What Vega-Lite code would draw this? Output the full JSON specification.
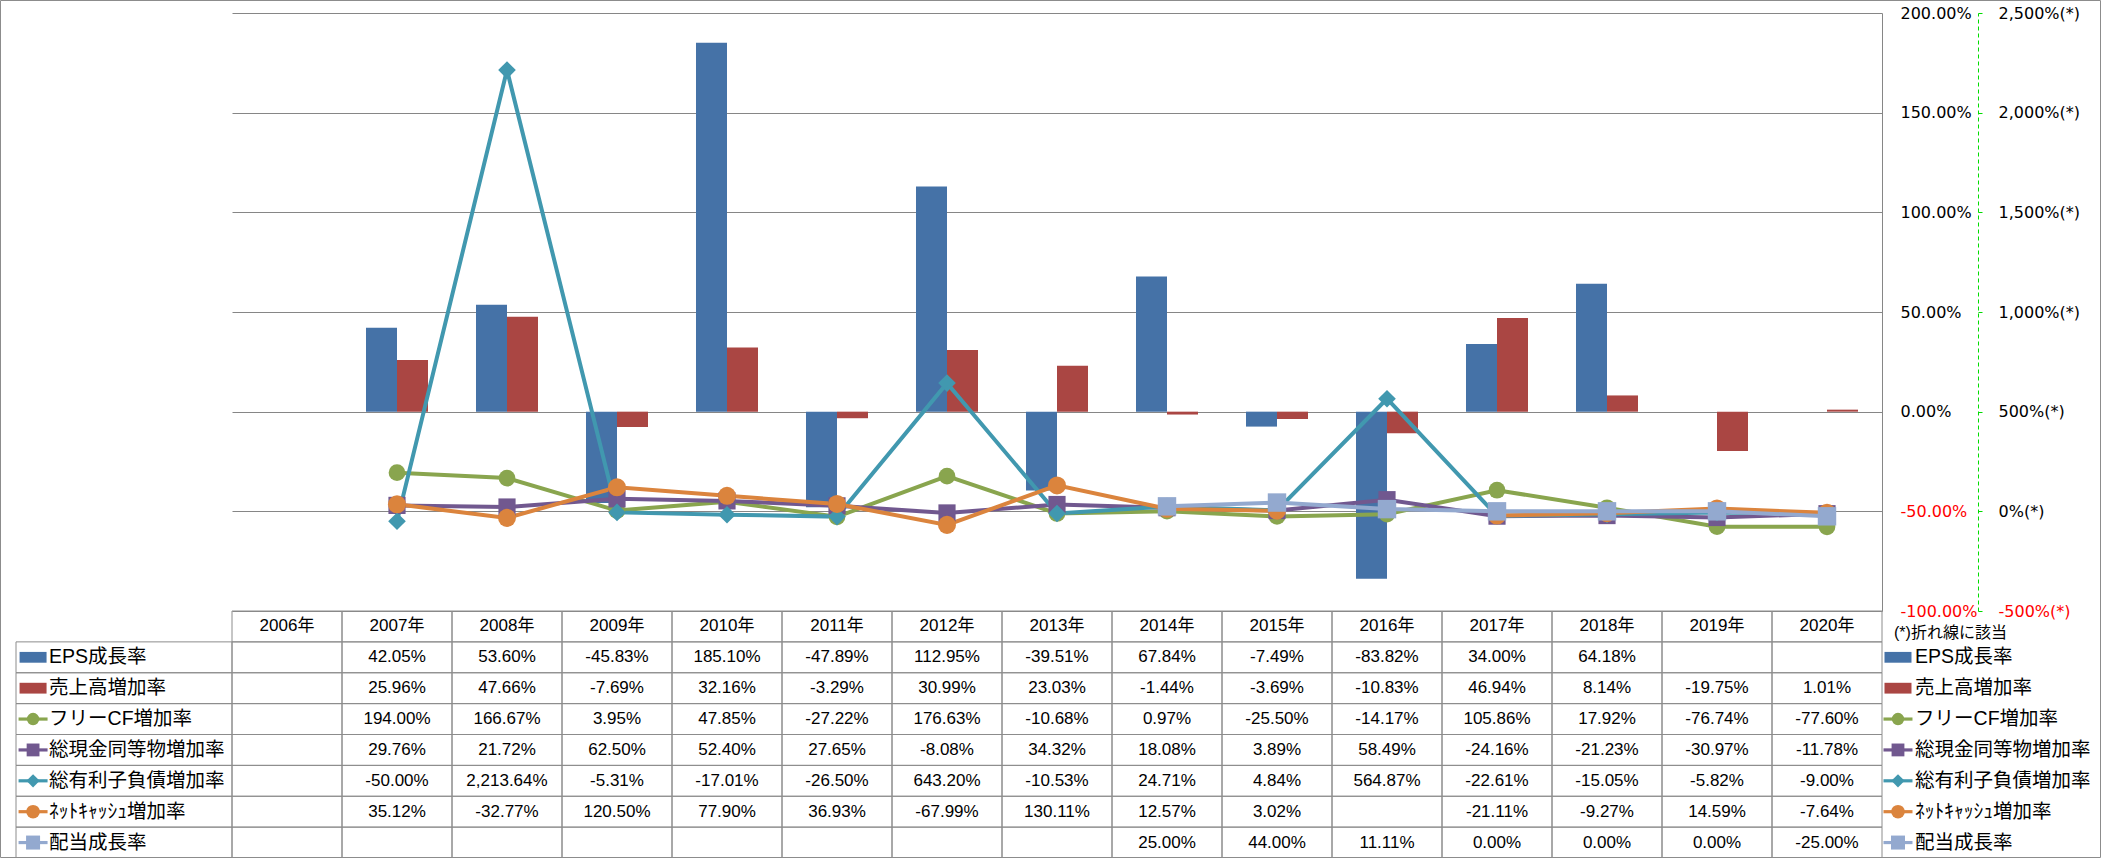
{
  "$schema": "https://vega.github.io/schema/vega-lite/v6.json",
  "width": 1650,
  "height": 598,
  "autosize": {"type": "none"},
  "padding": {"left": 232, "top": 13, "right": 219, "bottom": 247},
  "background": "white",
  "config": {
    "view": {"stroke": null},
    "locale": {"number": {"decimal": ".", "thousands": ",", "grouping": [3], "currency": ["$", ""], "minus": "-"}}
  },
  "datasets": {
    "years": [
      {"year": "2006年"}, {"year": "2007年"}, {"year": "2008年"}, {"year": "2009年"}, {"year": "2010年"},
      {"year": "2011年"}, {"year": "2012年"}, {"year": "2013年"}, {"year": "2014年"}, {"year": "2015年"},
      {"year": "2016年"}, {"year": "2017年"}, {"year": "2018年"}, {"year": "2019年"}, {"year": "2020年"}
    ],
    "series": [
      {"series": "EPS成長率", "kind": "bar"},
      {"series": "売上高増加率", "kind": "bar"},
      {"series": "フリーCF増加率", "kind": "line"},
      {"series": "総現金同等物増加率", "kind": "line"},
      {"series": "総有利子負債増加率", "kind": "line"},
      {"series": "ﾈｯﾄｷｬｯｼｭ増加率", "kind": "line"},
      {"series": "配当成長率", "kind": "line"}
    ],
    "note": [{"text": "(*)折れ線に該当"}],
    "vals": [
      {"year": "2006年", "series": "EPS成長率", "value": null},
      {"year": "2007年", "series": "EPS成長率", "value": 0.4205},
      {"year": "2008年", "series": "EPS成長率", "value": 0.536},
      {"year": "2009年", "series": "EPS成長率", "value": -0.4583},
      {"year": "2010年", "series": "EPS成長率", "value": 1.851},
      {"year": "2011年", "series": "EPS成長率", "value": -0.4789},
      {"year": "2012年", "series": "EPS成長率", "value": 1.1295},
      {"year": "2013年", "series": "EPS成長率", "value": -0.3951},
      {"year": "2014年", "series": "EPS成長率", "value": 0.6784},
      {"year": "2015年", "series": "EPS成長率", "value": -0.0749},
      {"year": "2016年", "series": "EPS成長率", "value": -0.8382},
      {"year": "2017年", "series": "EPS成長率", "value": 0.34},
      {"year": "2018年", "series": "EPS成長率", "value": 0.6418},
      {"year": "2019年", "series": "EPS成長率", "value": null},
      {"year": "2020年", "series": "EPS成長率", "value": null},
      {"year": "2006年", "series": "売上高増加率", "value": null},
      {"year": "2007年", "series": "売上高増加率", "value": 0.2596},
      {"year": "2008年", "series": "売上高増加率", "value": 0.4766},
      {"year": "2009年", "series": "売上高増加率", "value": -0.0769},
      {"year": "2010年", "series": "売上高増加率", "value": 0.3216},
      {"year": "2011年", "series": "売上高増加率", "value": -0.0329},
      {"year": "2012年", "series": "売上高増加率", "value": 0.3099},
      {"year": "2013年", "series": "売上高増加率", "value": 0.2303},
      {"year": "2014年", "series": "売上高増加率", "value": -0.0144},
      {"year": "2015年", "series": "売上高増加率", "value": -0.0369},
      {"year": "2016年", "series": "売上高増加率", "value": -0.1083},
      {"year": "2017年", "series": "売上高増加率", "value": 0.4694},
      {"year": "2018年", "series": "売上高増加率", "value": 0.0814},
      {"year": "2019年", "series": "売上高増加率", "value": -0.1975},
      {"year": "2020年", "series": "売上高増加率", "value": 0.0101},
      {"year": "2006年", "series": "フリーCF増加率", "value": null},
      {"year": "2007年", "series": "フリーCF増加率", "value": 1.94},
      {"year": "2008年", "series": "フリーCF増加率", "value": 1.6667},
      {"year": "2009年", "series": "フリーCF増加率", "value": 0.0395},
      {"year": "2010年", "series": "フリーCF増加率", "value": 0.4785},
      {"year": "2011年", "series": "フリーCF増加率", "value": -0.2722},
      {"year": "2012年", "series": "フリーCF増加率", "value": 1.7663},
      {"year": "2013年", "series": "フリーCF増加率", "value": -0.1068},
      {"year": "2014年", "series": "フリーCF増加率", "value": 0.0097},
      {"year": "2015年", "series": "フリーCF増加率", "value": -0.255},
      {"year": "2016年", "series": "フリーCF増加率", "value": -0.1417},
      {"year": "2017年", "series": "フリーCF増加率", "value": 1.0586},
      {"year": "2018年", "series": "フリーCF増加率", "value": 0.1792},
      {"year": "2019年", "series": "フリーCF増加率", "value": -0.7674},
      {"year": "2020年", "series": "フリーCF増加率", "value": -0.776},
      {"year": "2006年", "series": "総現金同等物増加率", "value": null},
      {"year": "2007年", "series": "総現金同等物増加率", "value": 0.2976},
      {"year": "2008年", "series": "総現金同等物増加率", "value": 0.2172},
      {"year": "2009年", "series": "総現金同等物増加率", "value": 0.625},
      {"year": "2010年", "series": "総現金同等物増加率", "value": 0.524},
      {"year": "2011年", "series": "総現金同等物増加率", "value": 0.2765},
      {"year": "2012年", "series": "総現金同等物増加率", "value": -0.0808},
      {"year": "2013年", "series": "総現金同等物増加率", "value": 0.3432},
      {"year": "2014年", "series": "総現金同等物増加率", "value": 0.1808},
      {"year": "2015年", "series": "総現金同等物増加率", "value": 0.0389},
      {"year": "2016年", "series": "総現金同等物増加率", "value": 0.5849},
      {"year": "2017年", "series": "総現金同等物増加率", "value": -0.2416},
      {"year": "2018年", "series": "総現金同等物増加率", "value": -0.2123},
      {"year": "2019年", "series": "総現金同等物増加率", "value": -0.3097},
      {"year": "2020年", "series": "総現金同等物増加率", "value": -0.1178},
      {"year": "2006年", "series": "総有利子負債増加率", "value": null},
      {"year": "2007年", "series": "総有利子負債増加率", "value": -0.5},
      {"year": "2008年", "series": "総有利子負債増加率", "value": 22.1364},
      {"year": "2009年", "series": "総有利子負債増加率", "value": -0.0531},
      {"year": "2010年", "series": "総有利子負債増加率", "value": -0.1701},
      {"year": "2011年", "series": "総有利子負債増加率", "value": -0.265},
      {"year": "2012年", "series": "総有利子負債増加率", "value": 6.432},
      {"year": "2013年", "series": "総有利子負債増加率", "value": -0.1053},
      {"year": "2014年", "series": "総有利子負債増加率", "value": 0.2471},
      {"year": "2015年", "series": "総有利子負債増加率", "value": 0.0484},
      {"year": "2016年", "series": "総有利子負債増加率", "value": 5.6487},
      {"year": "2017年", "series": "総有利子負債増加率", "value": -0.2261},
      {"year": "2018年", "series": "総有利子負債増加率", "value": -0.1505},
      {"year": "2019年", "series": "総有利子負債増加率", "value": -0.0582},
      {"year": "2020年", "series": "総有利子負債増加率", "value": -0.09},
      {"year": "2006年", "series": "ﾈｯﾄｷｬｯｼｭ増加率", "value": null},
      {"year": "2007年", "series": "ﾈｯﾄｷｬｯｼｭ増加率", "value": 0.3512},
      {"year": "2008年", "series": "ﾈｯﾄｷｬｯｼｭ増加率", "value": -0.3277},
      {"year": "2009年", "series": "ﾈｯﾄｷｬｯｼｭ増加率", "value": 1.205},
      {"year": "2010年", "series": "ﾈｯﾄｷｬｯｼｭ増加率", "value": 0.779},
      {"year": "2011年", "series": "ﾈｯﾄｷｬｯｼｭ増加率", "value": 0.3693},
      {"year": "2012年", "series": "ﾈｯﾄｷｬｯｼｭ増加率", "value": -0.6799},
      {"year": "2013年", "series": "ﾈｯﾄｷｬｯｼｭ増加率", "value": 1.3011},
      {"year": "2014年", "series": "ﾈｯﾄｷｬｯｼｭ増加率", "value": 0.1257},
      {"year": "2015年", "series": "ﾈｯﾄｷｬｯｼｭ増加率", "value": 0.0302},
      {"year": "2016年", "series": "ﾈｯﾄｷｬｯｼｭ増加率", "value": null},
      {"year": "2017年", "series": "ﾈｯﾄｷｬｯｼｭ増加率", "value": -0.2111},
      {"year": "2018年", "series": "ﾈｯﾄｷｬｯｼｭ増加率", "value": -0.0927},
      {"year": "2019年", "series": "ﾈｯﾄｷｬｯｼｭ増加率", "value": 0.1459},
      {"year": "2020年", "series": "ﾈｯﾄｷｬｯｼｭ増加率", "value": -0.0764},
      {"year": "2006年", "series": "配当成長率", "value": null},
      {"year": "2007年", "series": "配当成長率", "value": null},
      {"year": "2008年", "series": "配当成長率", "value": null},
      {"year": "2009年", "series": "配当成長率", "value": null},
      {"year": "2010年", "series": "配当成長率", "value": null},
      {"year": "2011年", "series": "配当成長率", "value": null},
      {"year": "2012年", "series": "配当成長率", "value": null},
      {"year": "2013年", "series": "配当成長率", "value": null},
      {"year": "2014年", "series": "配当成長率", "value": 0.25},
      {"year": "2015年", "series": "配当成長率", "value": 0.44},
      {"year": "2016年", "series": "配当成長率", "value": 0.1111},
      {"year": "2017年", "series": "配当成長率", "value": 0},
      {"year": "2018年", "series": "配当成長率", "value": 0},
      {"year": "2019年", "series": "配当成長率", "value": 0},
      {"year": "2020年", "series": "配当成長率", "value": -0.25}
    ]
  },
  "resolve": {"scale": {"x": "independent", "y": "independent", "size": "independent"}},
  "layer": [
    {
      "data": {"name": "vals"},
      "transform": [{"filter": {"field": "series", "oneOf": ["EPS成長率", "売上高増加率"]}}],
      "mark": {"type": "bar"},
      "encoding": {
        "x": {"field": "year", "type": "nominal", "scale": {"type": "band", "domain": ["2006年","2007年","2008年","2009年","2010年","2011年","2012年","2013年","2014年","2015年","2016年","2017年","2018年","2019年","2020年"], "paddingInner": 0, "paddingOuter": 0}, "axis": null},
        "xOffset": {"field": "series", "type": "nominal", "scale": {"type": "band", "domain": ["EPS成長率", "売上高増加率"], "paddingInner": 0, "paddingOuter": 0.774}},
        "y": {"field": "value", "type": "quantitative", "scale": {"domain": [-1, 2], "nice": false},
          "axis": {"orient": "right", "values": [-1, -0.5, 0, 0.5, 1, 1.5, 2], "format": ".2%", "title": null,
            "grid": true, "gridColor": "#868686", "gridWidth": 1, "domain": true, "domainColor": "#868686", "domainWidth": 1,
            "ticks": false, "labelPadding": 18, "labelAlign": "left", "labelFont": "DejaVu Sans", "labelFontSize": 16, "labelOverlap": false,
            "labelColor": {"expr": "datum.value < 0 ? '#ff0000' : '#000000'"}}},
        "color": {"field": "series", "type": "nominal", "scale": {"domain": ["EPS成長率","売上高増加率","フリーCF増加率","総現金同等物増加率","総有利子負債増加率","ﾈｯﾄｷｬｯｼｭ増加率","配当成長率"], "range": ["#4572A7","#AA4643","#89A54E","#71588F","#4198AF","#DB843D","#93A9CF"]}, "legend": null}
      }
    },
    {
      "data": {"name": "vals"},
      "transform": [{"filter": {"field": "series", "oneOf": ["フリーCF増加率","総現金同等物増加率","総有利子負債増加率","ﾈｯﾄｷｬｯｼｭ増加率","配当成長率"]}}],
      "mark": {"type": "line", "strokeWidth": 4, "invalid": "break-paths-show-domains"},
      "encoding": {
        "x": {"field": "year", "type": "nominal", "scale": {"type": "band", "domain": ["2006年","2007年","2008年","2009年","2010年","2011年","2012年","2013年","2014年","2015年","2016年","2017年","2018年","2019年","2020年"], "paddingInner": 0, "paddingOuter": 0}, "axis": null},
        "y": {"field": "value", "type": "quantitative", "scale": {"domain": [-5, 25], "nice": false},
          "axis": {"orient": "right", "offset": 96, "values": [-5, 0, 5, 10, 15, 20, 25], "labelExpr": "format(datum.value, ',.0%') + '(*)'", "title": null,
            "grid": false, "domain": true, "domainColor": "#00dd00", "domainDash": [4, 3], "domainWidth": 1,
            "ticks": true, "tickColor": "#00dd00", "tickSize": 4, "labelPadding": 16, "labelAlign": "left", "labelFont": "DejaVu Sans", "labelFontSize": 16, "labelOverlap": false,
            "labelColor": {"expr": "datum.value < 0 ? '#ff0000' : '#000000'"}}},
        "color": {"field": "series", "type": "nominal", "scale": {"domain": ["EPS成長率","売上高増加率","フリーCF増加率","総現金同等物増加率","総有利子負債増加率","ﾈｯﾄｷｬｯｼｭ増加率","配当成長率"], "range": ["#4572A7","#AA4643","#89A54E","#71588F","#4198AF","#DB843D","#93A9CF"]}, "legend": null}
      }
    },
    {
      "data": {"name": "vals"},
      "transform": [{"filter": {"field": "series", "oneOf": ["フリーCF増加率","総現金同等物増加率","総有利子負債増加率","ﾈｯﾄｷｬｯｼｭ増加率","配当成長率"]}}, {"filter": "isValid(datum.value)"}],
      "mark": {"type": "point", "filled": true, "opacity": 1, "strokeWidth": 0},
      "encoding": {
        "x": {"field": "year", "type": "nominal", "scale": {"type": "band", "domain": ["2006年","2007年","2008年","2009年","2010年","2011年","2012年","2013年","2014年","2015年","2016年","2017年","2018年","2019年","2020年"], "paddingInner": 0, "paddingOuter": 0}, "axis": null},
        "y": {"field": "value", "type": "quantitative", "scale": {"domain": [-5, 25], "nice": false}, "axis": null},
        "color": {"field": "series", "type": "nominal", "scale": {"domain": ["EPS成長率","売上高増加率","フリーCF増加率","総現金同等物増加率","総有利子負債増加率","ﾈｯﾄｷｬｯｼｭ増加率","配当成長率"], "range": ["#4572A7","#AA4643","#89A54E","#71588F","#4198AF","#DB843D","#93A9CF"]}, "legend": null},
        "shape": {"field": "series", "type": "nominal", "scale": {"domain": ["フリーCF増加率","総現金同等物増加率","総有利子負債増加率","ﾈｯﾄｷｬｯｼｭ増加率","配当成長率"], "range": ["circle","square","diamond","circle","square"]}, "legend": null},
        "size": {"field": "series", "type": "nominal", "scale": {"domain": ["フリーCF増加率","総現金同等物増加率","総有利子負債増加率","ﾈｯﾄｷｬｯｼｭ増加率","配当成長率"], "range": [280, 340, 680, 280, 340]}, "legend": null}
      }
    },
    {
      "data": {"name": "vals"},
      "mark": {"type": "rect", "fill": "transparent", "stroke": "#8c8c8c", "strokeWidth": 1},
      "encoding": {
        "x": {"field": "year", "type": "nominal", "scale": {"type": "band", "domain": ["2006年","2007年","2008年","2009年","2010年","2011年","2012年","2013年","2014年","2015年","2016年","2017年","2018年","2019年","2020年"], "paddingInner": 0, "paddingOuter": 0}, "axis": null},
        "y": {"field": "series", "type": "nominal", "scale": {"type": "band", "domain": ["hdr","EPS成長率","売上高増加率","フリーCF増加率","総現金同等物増加率","総有利子負債増加率","ﾈｯﾄｷｬｯｼｭ増加率","配当成長率"], "range": [598, 845], "paddingInner": 0, "paddingOuter": 0}, "axis": null}
      }
    },
    {
      "data": {"name": "years"},
      "mark": {"type": "rect", "fill": "transparent", "stroke": "#8c8c8c", "strokeWidth": 1},
      "encoding": {
        "x": {"field": "year", "type": "nominal", "scale": {"type": "band", "domain": ["2006年","2007年","2008年","2009年","2010年","2011年","2012年","2013年","2014年","2015年","2016年","2017年","2018年","2019年","2020年"], "paddingInner": 0, "paddingOuter": 0}, "axis": null},
        "y": {"datum": "hdr", "type": "nominal", "scale": {"type": "band", "domain": ["hdr","EPS成長率","売上高増加率","フリーCF増加率","総現金同等物増加率","総有利子負債増加率","ﾈｯﾄｷｬｯｼｭ増加率","配当成長率"], "range": [598, 845], "paddingInner": 0, "paddingOuter": 0}, "axis": null}
      }
    },
    {
      "data": {"name": "vals"},
      "transform": [{"filter": "isValid(datum.value)"}],
      "mark": {"type": "text", "font": "Liberation Sans", "fontSize": 17, "baseline": "middle", "align": "center", "color": "#000000"},
      "encoding": {
        "x": {"field": "year", "type": "nominal", "scale": {"type": "band", "domain": ["2006年","2007年","2008年","2009年","2010年","2011年","2012年","2013年","2014年","2015年","2016年","2017年","2018年","2019年","2020年"], "paddingInner": 0, "paddingOuter": 0}, "axis": null},
        "y": {"field": "series", "type": "nominal", "scale": {"type": "band", "domain": ["hdr","EPS成長率","売上高増加率","フリーCF増加率","総現金同等物増加率","総有利子負債増加率","ﾈｯﾄｷｬｯｼｭ増加率","配当成長率"], "range": [598, 845], "paddingInner": 0, "paddingOuter": 0}, "axis": null},
        "text": {"field": "value", "type": "quantitative", "format": ",.2%"}
      }
    },
    {
      "data": {"name": "years"},
      "mark": {"type": "text", "font": "Liberation Sans, Noto Sans CJK JP", "fontSize": 17, "baseline": "middle", "align": "center", "color": "#000000"},
      "encoding": {
        "x": {"field": "year", "type": "nominal", "scale": {"type": "band", "domain": ["2006年","2007年","2008年","2009年","2010年","2011年","2012年","2013年","2014年","2015年","2016年","2017年","2018年","2019年","2020年"], "paddingInner": 0, "paddingOuter": 0}, "axis": null},
        "y": {"datum": "hdr", "type": "nominal", "scale": {"type": "band", "domain": ["hdr","EPS成長率","売上高増加率","フリーCF増加率","総現金同等物増加率","総有利子負債増加率","ﾈｯﾄｷｬｯｼｭ増加率","配当成長率"], "range": [598, 845], "paddingInner": 0, "paddingOuter": 0}, "axis": null},
        "text": {"field": "year", "type": "nominal"}
      }
    },
    {
      "data": {"name": "series"},
      "mark": {"type": "rect", "fill": "transparent", "stroke": "#8c8c8c", "strokeWidth": 1},
      "encoding": {
        "x": {"datum": "L", "type": "nominal", "scale": {"type": "band", "domain": ["L"], "range": [-216, 0], "paddingInner": 0, "paddingOuter": 0}, "axis": null},
        "y": {"field": "series", "type": "nominal", "scale": {"type": "band", "domain": ["hdr","EPS成長率","売上高増加率","フリーCF増加率","総現金同等物増加率","総有利子負債増加率","ﾈｯﾄｷｬｯｼｭ増加率","配当成長率"], "range": [598, 845], "paddingInner": 0, "paddingOuter": 0}, "axis": null}
      }
    },
    {
      "data": {"name": "series"},
      "mark": {"type": "text", "font": "Liberation Sans, Noto Sans CJK JP", "fontSize": 19.5, "baseline": "middle", "align": "left", "color": "#000000"},
      "encoding": {
        "x": {"datum": "L", "type": "nominal", "bandPosition": 0.153, "scale": {"type": "band", "domain": ["L"], "range": [-216, 0], "paddingInner": 0, "paddingOuter": 0}, "axis": null},
        "y": {"field": "series", "type": "nominal", "scale": {"type": "band", "domain": ["hdr","EPS成長率","売上高増加率","フリーCF増加率","総現金同等物増加率","総有利子負債増加率","ﾈｯﾄｷｬｯｼｭ増加率","配当成長率"], "range": [598, 845], "paddingInner": 0, "paddingOuter": 0}, "axis": null},
        "text": {"field": "series", "type": "nominal"}
      }
    },
    {
      "data": {"name": "series"},
      "transform": [{"filter": "datum.kind === 'bar'"}],
      "mark": {"type": "point", "shape": "M-1,-0.4H1V0.4H-1Z", "size": 729, "filled": true, "opacity": 1, "strokeWidth": 0},
      "encoding": {
        "x": {"datum": "L", "type": "nominal", "bandPosition": 0.079, "scale": {"type": "band", "domain": ["L"], "range": [-216, 0], "paddingInner": 0, "paddingOuter": 0}, "axis": null},
        "y": {"field": "series", "type": "nominal", "scale": {"type": "band", "domain": ["hdr","EPS成長率","売上高増加率","フリーCF増加率","総現金同等物増加率","総有利子負債増加率","ﾈｯﾄｷｬｯｼｭ増加率","配当成長率"], "range": [598, 845], "paddingInner": 0, "paddingOuter": 0}, "axis": null},
        "color": {"field": "series", "type": "nominal", "scale": {"domain": ["EPS成長率","売上高増加率","フリーCF増加率","総現金同等物増加率","総有利子負債増加率","ﾈｯﾄｷｬｯｼｭ増加率","配当成長率"], "range": ["#4572A7","#AA4643","#89A54E","#71588F","#4198AF","#DB843D","#93A9CF"]}, "legend": null}
      }
    },
    {
      "data": {"name": "series"},
      "transform": [{"filter": "datum.kind === 'line'"}],
      "mark": {"type": "point", "shape": "M-1,-0.11H1V0.11H-1Z", "size": 841, "filled": true, "opacity": 1, "strokeWidth": 0},
      "encoding": {
        "x": {"datum": "L", "type": "nominal", "bandPosition": 0.079, "scale": {"type": "band", "domain": ["L"], "range": [-216, 0], "paddingInner": 0, "paddingOuter": 0}, "axis": null},
        "y": {"field": "series", "type": "nominal", "scale": {"type": "band", "domain": ["hdr","EPS成長率","売上高増加率","フリーCF増加率","総現金同等物増加率","総有利子負債増加率","ﾈｯﾄｷｬｯｼｭ増加率","配当成長率"], "range": [598, 845], "paddingInner": 0, "paddingOuter": 0}, "axis": null},
        "color": {"field": "series", "type": "nominal", "scale": {"domain": ["EPS成長率","売上高増加率","フリーCF増加率","総現金同等物増加率","総有利子負債増加率","ﾈｯﾄｷｬｯｼｭ増加率","配当成長率"], "range": ["#4572A7","#AA4643","#89A54E","#71588F","#4198AF","#DB843D","#93A9CF"]}, "legend": null}
      }
    },
    {
      "data": {"name": "series"},
      "transform": [{"filter": "datum.kind === 'line'"}],
      "mark": {"type": "point", "filled": true, "opacity": 1, "strokeWidth": 0},
      "encoding": {
        "x": {"datum": "L", "type": "nominal", "bandPosition": 0.079, "scale": {"type": "band", "domain": ["L"], "range": [-216, 0], "paddingInner": 0, "paddingOuter": 0}, "axis": null},
        "y": {"field": "series", "type": "nominal", "scale": {"type": "band", "domain": ["hdr","EPS成長率","売上高増加率","フリーCF増加率","総現金同等物増加率","総有利子負債増加率","ﾈｯﾄｷｬｯｼｭ増加率","配当成長率"], "range": [598, 845], "paddingInner": 0, "paddingOuter": 0}, "axis": null},
        "color": {"field": "series", "type": "nominal", "scale": {"domain": ["EPS成長率","売上高増加率","フリーCF増加率","総現金同等物増加率","総有利子負債増加率","ﾈｯﾄｷｬｯｼｭ増加率","配当成長率"], "range": ["#4572A7","#AA4643","#89A54E","#71588F","#4198AF","#DB843D","#93A9CF"]}, "legend": null},
        "shape": {"field": "series", "type": "nominal", "scale": {"domain": ["フリーCF増加率","総現金同等物増加率","総有利子負債増加率","ﾈｯﾄｷｬｯｼｭ増加率","配当成長率"], "range": ["circle","square","diamond","circle","square"]}, "legend": null},
        "size": {"field": "series", "type": "nominal", "scale": {"domain": ["フリーCF増加率","総現金同等物増加率","総有利子負債増加率","ﾈｯﾄｷｬｯｼｭ増加率","配当成長率"], "range": [154, 196, 260, 154, 196]}, "legend": null}
      }
    },
    {
      "data": {"name": "series"},
      "mark": {"type": "text", "font": "Liberation Sans, Noto Sans CJK JP", "fontSize": 19.5, "baseline": "middle", "align": "left", "color": "#000000"},
      "encoding": {
        "x": {"datum": "R", "type": "nominal", "bandPosition": 0.151, "scale": {"type": "band", "domain": ["R"], "range": [1650, 1869], "paddingInner": 0, "paddingOuter": 0}, "axis": null},
        "y": {"field": "series", "type": "nominal", "scale": {"type": "band", "domain": ["hdr","EPS成長率","売上高増加率","フリーCF増加率","総現金同等物増加率","総有利子負債増加率","ﾈｯﾄｷｬｯｼｭ増加率","配当成長率"], "range": [598, 845], "paddingInner": 0, "paddingOuter": 0}, "axis": null},
        "text": {"field": "series", "type": "nominal"}
      }
    },
    {
      "data": {"name": "series"},
      "transform": [{"filter": "datum.kind === 'bar'"}],
      "mark": {"type": "point", "shape": "M-1,-0.4H1V0.4H-1Z", "size": 729, "filled": true, "opacity": 1, "strokeWidth": 0},
      "encoding": {
        "x": {"datum": "R", "type": "nominal", "bandPosition": 0.073, "scale": {"type": "band", "domain": ["R"], "range": [1650, 1869], "paddingInner": 0, "paddingOuter": 0}, "axis": null},
        "y": {"field": "series", "type": "nominal", "scale": {"type": "band", "domain": ["hdr","EPS成長率","売上高増加率","フリーCF増加率","総現金同等物増加率","総有利子負債増加率","ﾈｯﾄｷｬｯｼｭ増加率","配当成長率"], "range": [598, 845], "paddingInner": 0, "paddingOuter": 0}, "axis": null},
        "color": {"field": "series", "type": "nominal", "scale": {"domain": ["EPS成長率","売上高増加率","フリーCF増加率","総現金同等物増加率","総有利子負債増加率","ﾈｯﾄｷｬｯｼｭ増加率","配当成長率"], "range": ["#4572A7","#AA4643","#89A54E","#71588F","#4198AF","#DB843D","#93A9CF"]}, "legend": null}
      }
    },
    {
      "data": {"name": "series"},
      "transform": [{"filter": "datum.kind === 'line'"}],
      "mark": {"type": "point", "shape": "M-1,-0.11H1V0.11H-1Z", "size": 841, "filled": true, "opacity": 1, "strokeWidth": 0},
      "encoding": {
        "x": {"datum": "R", "type": "nominal", "bandPosition": 0.073, "scale": {"type": "band", "domain": ["R"], "range": [1650, 1869], "paddingInner": 0, "paddingOuter": 0}, "axis": null},
        "y": {"field": "series", "type": "nominal", "scale": {"type": "band", "domain": ["hdr","EPS成長率","売上高増加率","フリーCF増加率","総現金同等物増加率","総有利子負債増加率","ﾈｯﾄｷｬｯｼｭ増加率","配当成長率"], "range": [598, 845], "paddingInner": 0, "paddingOuter": 0}, "axis": null},
        "color": {"field": "series", "type": "nominal", "scale": {"domain": ["EPS成長率","売上高増加率","フリーCF増加率","総現金同等物増加率","総有利子負債増加率","ﾈｯﾄｷｬｯｼｭ増加率","配当成長率"], "range": ["#4572A7","#AA4643","#89A54E","#71588F","#4198AF","#DB843D","#93A9CF"]}, "legend": null}
      }
    },
    {
      "data": {"name": "series"},
      "transform": [{"filter": "datum.kind === 'line'"}],
      "mark": {"type": "point", "filled": true, "opacity": 1, "strokeWidth": 0},
      "encoding": {
        "x": {"datum": "R", "type": "nominal", "bandPosition": 0.073, "scale": {"type": "band", "domain": ["R"], "range": [1650, 1869], "paddingInner": 0, "paddingOuter": 0}, "axis": null},
        "y": {"field": "series", "type": "nominal", "scale": {"type": "band", "domain": ["hdr","EPS成長率","売上高増加率","フリーCF増加率","総現金同等物増加率","総有利子負債増加率","ﾈｯﾄｷｬｯｼｭ増加率","配当成長率"], "range": [598, 845], "paddingInner": 0, "paddingOuter": 0}, "axis": null},
        "color": {"field": "series", "type": "nominal", "scale": {"domain": ["EPS成長率","売上高増加率","フリーCF増加率","総現金同等物増加率","総有利子負債増加率","ﾈｯﾄｷｬｯｼｭ増加率","配当成長率"], "range": ["#4572A7","#AA4643","#89A54E","#71588F","#4198AF","#DB843D","#93A9CF"]}, "legend": null},
        "shape": {"field": "series", "type": "nominal", "scale": {"domain": ["フリーCF増加率","総現金同等物増加率","総有利子負債増加率","ﾈｯﾄｷｬｯｼｭ増加率","配当成長率"], "range": ["circle","square","diamond","circle","square"]}, "legend": null},
        "size": {"field": "series", "type": "nominal", "scale": {"domain": ["フリーCF増加率","総現金同等物増加率","総有利子負債増加率","ﾈｯﾄｷｬｯｼｭ増加率","配当成長率"], "range": [154, 196, 260, 154, 196]}, "legend": null}
      }
    },
    {
      "data": {"name": "note"},
      "mark": {"type": "text", "font": "Liberation Sans, Noto Sans CJK JP", "fontSize": 16, "baseline": "middle", "align": "left", "color": "#000000"},
      "encoding": {
        "x": {"datum": "R", "type": "nominal", "bandPosition": 0.055, "scale": {"type": "band", "domain": ["R"], "range": [1650, 1869], "paddingInner": 0, "paddingOuter": 0}, "axis": null},
        "y": {"datum": "hdr", "type": "nominal", "bandPosition": 0.72, "scale": {"type": "band", "domain": ["hdr","EPS成長率","売上高増加率","フリーCF増加率","総現金同等物増加率","総有利子負債増加率","ﾈｯﾄｷｬｯｼｭ増加率","配当成長率"], "range": [598, 845], "paddingInner": 0, "paddingOuter": 0}, "axis": null},
        "text": {"field": "text", "type": "nominal"}
      }
    },
    {
      "data": {"name": "note"},
      "mark": {"type": "rect", "fill": "transparent", "stroke": "#8c8c8c", "strokeWidth": 1},
      "encoding": {
        "x": {"datum": 0, "type": "quantitative", "scale": {"domain": [0, 1], "range": [-231.5, 1868.5]}, "axis": null},
        "x2": {"datum": 1},
        "y": {"datum": 0, "type": "quantitative", "scale": {"domain": [0, 1], "range": [-12.5, 844.5]}, "axis": null},
        "y2": {"datum": 1}
      }
    }
  ]
}
